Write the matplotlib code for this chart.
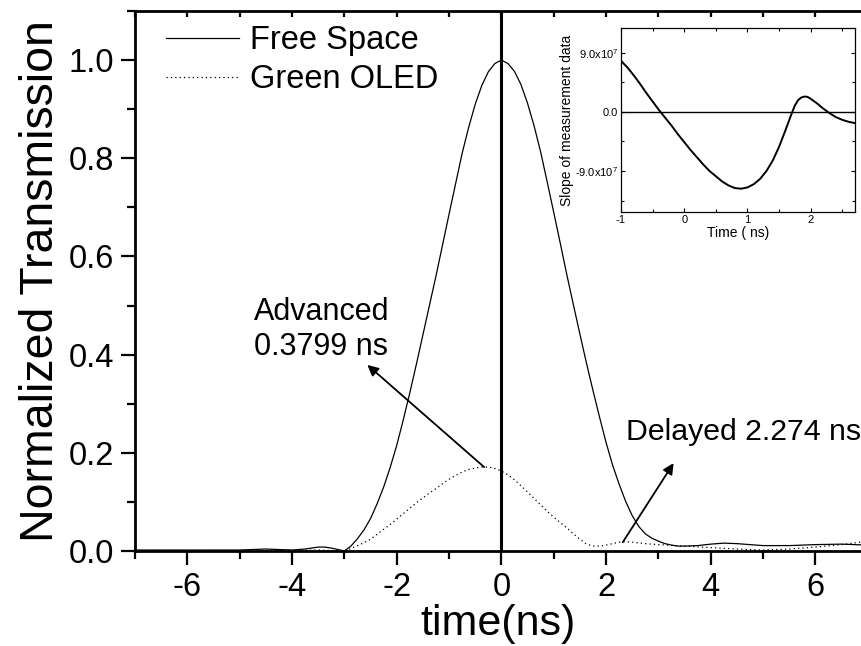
import matplotlib
matplotlib.use("Agg")
import matplotlib.pyplot as plt
from matplotlib.ticker import MultipleLocator, FixedLocator

plt.rcParams['font.family'] = ['Liberation Sans', 'DejaVu Sans']
plt.rcParams['mathtext.default'] = 'regular'

# ---- data ----
free_t = [-7.0, -6.5, -6.0, -5.5, -5.0, -4.5, -4.0, -3.75, -3.625, -3.5, -3.375, -3.25, -3.125, -3.0,
          -2.875, -2.75, -2.625, -2.5, -2.375, -2.25, -2.125, -2.0, -1.875, -1.75, -1.625, -1.5,
          -1.375, -1.25, -1.125, -1.0, -0.875, -0.75, -0.625, -0.5, -0.375, -0.25, -0.125, 0.0,
          0.125, 0.25, 0.375, 0.5, 0.625, 0.75, 0.875, 1.0, 1.125, 1.25, 1.375, 1.5, 1.625, 1.75,
          1.875, 2.0, 2.125, 2.25, 2.375, 2.5, 2.625, 2.75, 2.875, 3.0, 3.125, 3.25, 3.375, 3.5,
          3.75, 4.0, 4.25, 4.5, 4.75, 5.0, 5.5, 6.0, 6.5, 7.0]
free_v = [0.002, 0.002, 0.002, 0.002, 0.002, 0.004, 0.002, 0.004, 0.006, 0.008, 0.008, 0.006, 0.003, 0.0,
          0.01, 0.025, 0.043, 0.066, 0.096, 0.13, 0.17, 0.215, 0.267, 0.322, 0.38, 0.44,
          0.5, 0.56, 0.623, 0.686, 0.748, 0.81, 0.863, 0.91, 0.948, 0.976, 0.993, 1.0,
          0.993, 0.977, 0.95, 0.912, 0.866, 0.813, 0.752, 0.69, 0.627, 0.563, 0.502, 0.442, 0.383, 0.327,
          0.273, 0.221, 0.175, 0.136, 0.101, 0.072, 0.05, 0.035, 0.026, 0.02, 0.015, 0.012, 0.01, 0.01,
          0.011, 0.014, 0.016, 0.015, 0.013, 0.011, 0.011, 0.013, 0.014, 0.012]

oled_t = [-7.0, -6.0, -5.0, -4.0, -3.5, -3.0, -2.875, -2.75, -2.625, -2.5, -2.375, -2.25, -2.125,
          -2.0, -1.875, -1.75, -1.625, -1.5, -1.375, -1.25, -1.125, -1.0, -0.875, -0.75, -0.625,
          -0.5, -0.375, -0.25, -0.125, 0.0, 0.125, 0.25, 0.375, 0.5, 0.625, 0.75, 0.875, 1.0,
          1.125, 1.25, 1.375, 1.5, 1.625, 1.75, 1.875, 2.0, 2.125, 2.25, 2.375, 2.5, 2.75, 3.0,
          3.5, 4.0, 4.5, 5.0, 5.5, 6.0, 6.5, 7.0]
oled_v = [0.0, 0.0, 0.001, 0.001, 0.002, 0.0, 0.005, 0.011, 0.017, 0.024, 0.034, 0.044, 0.054,
          0.065, 0.076, 0.087, 0.098, 0.108, 0.118, 0.127, 0.137, 0.146, 0.154, 0.161, 0.166,
          0.169, 0.171, 0.171, 0.168, 0.163, 0.155, 0.145, 0.133, 0.12, 0.107, 0.094, 0.081, 0.069,
          0.058, 0.047, 0.035, 0.024, 0.014, 0.01, 0.01, 0.012, 0.015, 0.018, 0.019, 0.018, 0.015, 0.013,
          0.01, 0.007, 0.004, 0.002, 0.004, 0.008, 0.013, 0.02]

slope_t = [-1.0, -0.9, -0.8, -0.7, -0.6, -0.5, -0.4, -0.3, -0.2, -0.1, 0.0, 0.1, 0.2, 0.3, 0.4,
           0.5, 0.6, 0.7, 0.8, 0.9, 1.0, 1.1, 1.2, 1.3, 1.4, 1.5, 1.6, 1.7, 1.75, 1.8, 1.85,
           1.9, 1.95, 2.0, 2.1, 2.2, 2.3, 2.4, 2.5, 2.6, 2.7]
slope_v = [7.8e7, 6.8e7, 5.6e7, 4.3e7, 2.9e7, 1.6e7, 3e6, -9e6, -2.1e7, -3.4e7, -4.6e7, -5.8e7,
           -6.9e7, -8.0e7, -9.0e7, -9.8e7, -1.06e8, -1.12e8, -1.16e8, -1.17e8, -1.15e8, -1.10e8,
           -1.02e8, -9.0e7, -7.4e7, -5.3e7, -2.8e7, -2e6, 1.0e7, 1.8e7, 2.2e7, 2.35e7, 2.3e7,
           2.0e7, 1.3e7, 5e6, -2e6, -8e6, -1.2e7, -1.5e7, -1.7e7]

x_major = [-6, -4, -2, 0, 2, 4, 6]
y_major = [0.0, 0.2, 0.4, 0.6, 0.8, 1.0]
inset_yticks = [-9.0e7, 0.0, 9.0e7]
inset_ylabels = ['-9.0x10$^7$', '0.0', '9.0x10$^7$']
inset_xticks = [-1, 0, 1, 2]

fig = plt.figure(figsize=(8.62, 6.46), dpi=100)
ax = fig.add_axes([135/862, 1-551/646, 1-135/862, (551-11)/646])

ax.plot(free_t, free_v, color='black', lw=0.9, label='Free Space')
ax.plot(oled_t, oled_v, color='black', lw=0.9, ls=(0, (1, 2.5)), label='Green OLED')
ax.axvline(0, color='black', lw=2.2)

ax.set_xlim(-7, 6.89)
ax.set_ylim(0, 1.1)
ax.xaxis.set_major_locator(FixedLocator(x_major))
ax.xaxis.set_minor_locator(MultipleLocator(1))
ax.yaxis.set_major_locator(FixedLocator(y_major))
ax.yaxis.set_minor_locator(MultipleLocator(0.1))
ax.set_yticklabels(['%.1f' % v for v in y_major])
ax.set_xticklabels([str(v) for v in x_major])
ax.tick_params(axis='both', which='major', labelsize=23.5, width=1.6, length=10, direction='out', pad=5)
ax.tick_params(axis='both', which='minor', width=1.6, length=6, direction='out')
ax.tick_params(axis='x', which='both', top=True)
for sp in ['left', 'bottom', 'top']:
    ax.spines[sp].set_linewidth(2.0)
ax.spines['right'].set_visible(False)
# top ticks point inward
for t in ax.xaxis.get_major_ticks() + ax.xaxis.get_minor_ticks():
    t.tick2line.set_marker(matplotlib.lines.TICKDOWN)
    t.tick2line.set_markersize(4)

ax.set_xlabel('time(ns)', fontsize=31, labelpad=1)
ax.set_ylabel('Normalized Transmission', fontsize=33.5, labelpad=4)

ax.legend(loc='upper left', bbox_to_anchor=(0.043, 0.974), frameon=False, fontsize=23.5,
          handlelength=2.24, handletextpad=0.34, labelspacing=0.25, borderpad=0, borderaxespad=0)

ax.annotate('', xy=(-2.56, 0.379), xytext=(-0.33, 0.171),
            arrowprops=dict(arrowstyle='-|>', color='black', lw=1.3, mutation_scale=16,
                            shrinkA=0, shrinkB=0))
ax.text(-4.73, 0.451, 'Advanced\n0.3799 ns', fontsize=22, ha='left', va='center',
        multialignment='left', linespacing=1.2)
ax.annotate('', xy=(3.29, 0.179), xytext=(2.32, 0.018),
            arrowprops=dict(arrowstyle='-|>', color='black', lw=1.3, mutation_scale=16,
                            shrinkA=0, shrinkB=0))
ax.text(2.39, 0.242, 'Delayed 2.274 ns', fontsize=21.8, ha='left', va='center')

# ---- inset ----
ins = fig.add_axes([621/862, 1-212/646, (855-621)/862, (212-28)/646])
ins.plot(slope_t, slope_v, color='black', lw=1.4)
ins.axhline(0, color='black', lw=1.0)
ins.set_xlim(-1, 2.7)
ins.set_ylim(-1.525e8, 1.28e8)
ins.xaxis.set_major_locator(FixedLocator(inset_xticks))
ins.xaxis.set_minor_locator(MultipleLocator(0.5))
ins.yaxis.set_major_locator(FixedLocator(inset_yticks))
ins.yaxis.set_minor_locator(MultipleLocator(4.5e7))
ins.set_yticklabels(inset_ylabels)
ins.set_xticklabels([str(v) for v in inset_xticks])
ins.tick_params(axis='both', which='both', direction='in', top=True, right=True,
                labelsize=8, width=0.8, pad=2)
ins.tick_params(axis='both', which='major', length=3)
ins.tick_params(axis='both', which='minor', length=2)
for sp in ins.spines.values():
    sp.set_linewidth(0.9)
ins.set_xlabel('Time ( ns)', fontsize=10, labelpad=1)
ins.set_ylabel('Slope of measurement data', fontsize=10, labelpad=1)

fig.savefig('out.png', dpi=100)
